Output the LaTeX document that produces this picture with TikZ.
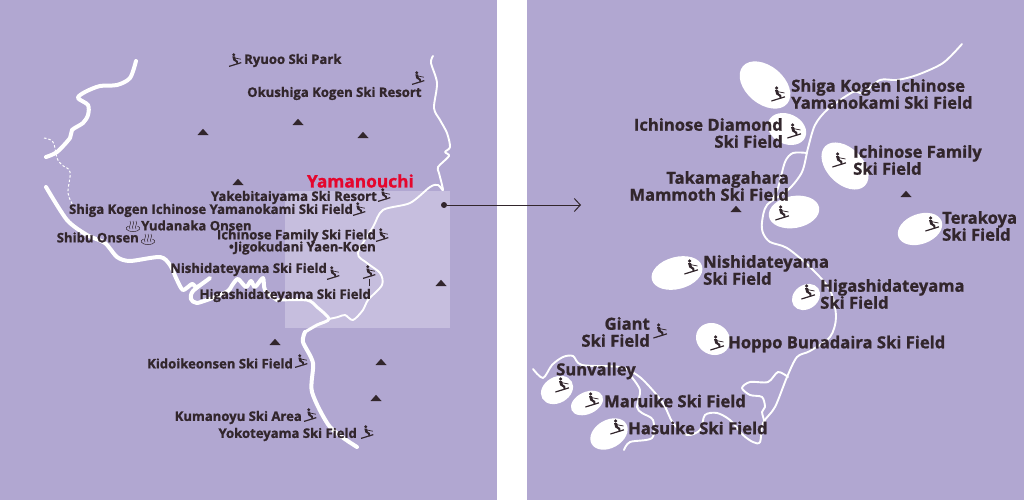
\documentclass[tikz,border=0pt]{standalone}
\usepackage{fontspec}
\setmainfont{Open Sans}[FakeBold=1.1]
\usetikzlibrary{shapes, arrows.meta, positioning}
\definecolor{panel}{HTML}{B1A7D1}
\definecolor{zone}{HTML}{C6BEDE}
\definecolor{ink}{HTML}{32262C}
\definecolor{townred}{HTML}{E5062D}

\begin{document}
\begin{tikzpicture}[
    x=1pt, y=-1pt,
    river/.style={draw=white, line width=4pt, line cap=round, line join=round},
    narrows/.style={draw=white, line width=3pt, line cap=round, line join=round},
    brook/.style={draw=white, line width=1.9pt, line cap=round, line join=round},
    trail/.style={draw=white, line width=1pt, dash pattern=on 2.5pt off 2pt},
    smallname/.style={inner sep=0pt, text=ink, font=\bfseries\fontsize{13.1}{14}\selectfont},
    bigname/.style={inner sep=0pt, text=ink, align=left, font=\bfseries\fontsize{16.6}{17}\selectfont},
    rightname/.style={bigname, align=right},
    field/.style={ellipse, fill=white, inner sep=0pt},
    marker/.style={circle, fill=ink, inner sep=0pt, minimum size=6pt},
    skier/.pic={
        \fill[ink] (-1.4,-7) circle (1.8);
        \fill[ink] (-3,-5) -- (0,-5) -- (0.9,-1.4) -- (3.2,0) -- (3.4,3.4) -- (1.8,3.6) -- (1.2,1.2) -- (-1.8,-0.6) -- cycle;
        \draw[ink, line width=0.7pt] (-0.5,-3.4) -- (6.5,-2);
        \draw[ink, line width=1.2pt] (-6.6,6) -- (7,1.8);
    },
    mountain/.pic={\fill[ink] (-5.5,3) -- (0,-3.2) -- (5.5,3) -- cycle;},
    spring/.pic={
        \draw[ink, line width=0.5pt] (-4.5,1.2) .. controls (-8.5,2) and (-7.5,6.5) .. (0,6.5) .. controls (7.5,6.5) and (8.5,2) .. (4.5,1.2);
        \foreach \sx in {-3,0,3}
            \draw[ink, line width=0.5pt] (\sx,4) .. controls (\sx-2,1.5) and (\sx+2,-1) .. (\sx,-4);
    }
]
    % Panels
    \fill[panel] (0,0) rectangle (497,500);
    \fill[panel] (527,0) rectangle (1024,500);
    \fill[zone] (285,191) rectangle (450,328);
    \useasboundingbox (0,0) rectangle (1024,500);

    % Rivers on the area map
    \draw[river] plot[smooth, tension=0.5] coordinates {(136,61) (130,78) (117,85) (100,86) (85,92) (78,98) (88,105) (88,115) (83,123) (72,130) (70,138) (57,152) (46,157)};
    \draw[trail] plot[smooth, tension=0.6] coordinates {(44,138) (53,142) (57,158) (62,165) (70,172) (68,193) (73,205)};
    \draw[river] plot[smooth, tension=0.45] coordinates {(46,187) (67,220) (87,235) (105,243) (117,257) (130,261) (160,257) (170,265) (177,280) (183,290) (192,284) (197,287) (210,278) (193,291) (191,299) (197,303) (215,297) (228,291) (233,284) (238,279) (246,287) (251,281) (255,287) (263,278) (265,290) (277,300)};
    \draw[narrows] plot[smooth, tension=0.45] coordinates {(277,300) (307,300) (317,307) (329,319) (317,325) (305,332)};
    \draw[river] plot[smooth, tension=0.45] coordinates {(305,332) (303,342) (313,363) (312,392) (330,427) (357,447)};
    \draw[brook] plot[smooth, tension=0.5] coordinates {(433,56) (431,63) (437,83) (434,108) (440,120) (447,133) (450,147) (445,152) (449,156) (438,167) (439,173) (443,190) (438,185) (430,187) (410,203) (383,210) (373,227) (358,253) (367,263) (380,273) (382,285) (368,300) (363,310) (353,320) (345,315) (338,317) (329,319)};

    % Rivers on the detail map
    \draw[brook] plot[smooth, tension=0.5] coordinates {(962,44) (943,63) (917,75) (897,80) (880,80) (863,93) (853,92) (828,109) (815,125) (808,148) (802,172) (788,190) (767,205) (762,222) (763,233) (770,242) (787,248) (810,267) (830,290) (836,317) (830,337) (810,351) (797,357) (787,377) (775,407) (763,423) (760,442) (753,442) (743,435) (730,420) (717,413) (705,415) (700,430) (687,435) (673,423) (663,403) (648,385) (637,375) (620,367) (582,365) (573,356) (563,357) (552,365) (543,378) (533,369)};
    \draw[brook] plot[smooth, tension=0.5] coordinates {(807,153) (793,153) (785,162) (778,188) (772,200)};
    \draw[brook] plot[smooth, tension=0.5] coordinates {(788,377) (778,372) (768,382) (750,382) (742,388) (750,395) (762,397) (765,407) (762,412) (765,423)};
    \draw[brook] plot[smooth, tension=0.5] coordinates {(630,375) (640,390) (637,407) (642,413) (653,420) (652,438) (630,442) (624,450)};

    % Ski fields
    \node[field, minimum width=58pt, minimum height=38pt, rotate=-40] (fieldshiga) at (765,85) {};
    \node[field, minimum width=40pt, minimum height=30pt, rotate=-25] (fielddiamond) at (787,129) {};
    \node[field, minimum width=56pt, minimum height=36pt, rotate=-45] (fieldfamily) at (845,166) {};
    \node[field, minimum width=51pt, minimum height=32pt, rotate=10] (fieldtaka) at (794,212) {};
    \node[field, minimum width=46pt, minimum height=30pt, rotate=20] (fieldtera) at (920,229) {};
    \node[field, minimum width=52pt, minimum height=32pt, rotate=15] (fieldnishi) at (677,273) {};
    \node[field, minimum width=30pt, minimum height=24pt, rotate=35] (fieldhigashi) at (806,297) {};
    \node[field, minimum width=35pt, minimum height=31pt, rotate=-30] (fieldhoppo) at (713,339) {};
    \node[field, minimum width=34pt, minimum height=26pt, rotate=30] (fieldsun) at (557,390) {};
    \node[field, minimum width=34pt, minimum height=22pt, rotate=25] (fieldmaru) at (587,403) {};
    \node[field, minimum width=40pt, minimum height=28pt, rotate=30] (fieldhasu) at (609,434) {};

    % Skiers and mountains
    \foreach \sx/\sy in {235/61, 418/79, 384/196, 359/210, 382/236, 333/274, 369/273, 301/362, 310/416, 367/433}
        \pic[scale=0.9] at (\sx,\sy) {skier};
    \foreach \sx/\sy in {778/95, 794/132, 839/161, 782/214, 932/225, 691/268, 808/293, 660/332, 717/344, 562/386, 592/401, 617/428}
        \pic at (\sx,\sy) {skier};
    \foreach \mx/\my in {203/132, 298/122, 363/135, 238/182, 441/283, 275/342, 381/362, 376/398, 736/209, 906/194}
        \pic at (\mx,\my) {mountain};
    \pic at (133,225) {spring};
    \pic at (148,238) {spring};
    \draw[ink, line width=0.5pt] (369,279) -- (369,286);

    % Names on the area map
    \node[smallname, anchor=west] (ryuoo) at (244,60.5) {Ryuoo Ski Park};
    \node[smallname, anchor=west] (okushiga) at (247,93.5) {Okushiga Kogen Ski Resort};
    \node[smallname, anchor=east, text=townred, font=\bfseries\fontsize{17.3}{19}\selectfont] (yamanouchi) at (414,181) {Yamanouchi};
    \node[smallname, anchor=east] (yakebitai) at (377,197.5) {Yakebitaiyama Ski Resort};
    \node[smallname, anchor=east] (shigaarea) at (353,210.5) {Shiga Kogen Ichinose Yamanokami Ski Field};
    \node[smallname, anchor=west] (yudanaka) at (141,225.5) {Yudanaka Onsen};
    \node[smallname, anchor=east] (shibu) at (139,237.5) {Shibu Onsen};
    \node[smallname, anchor=east] (familyarea) at (376,236) {Ichinose Family Ski Field};
    \node[smallname, anchor=east] (jigokudani) at (376,248) {\textbullet Jigokudani Yaen-Koen};
    \node[smallname, anchor=east] (nishiarea) at (327,269.5) {Nishidateyama Ski Field};
    \node[smallname, anchor=east] (higashiarea) at (371,295.5) {Higashidateyama Ski Field};
    \node[smallname, anchor=east] (kidoike) at (293,363.5) {Kidoikeonsen Ski Field};
    \node[smallname, anchor=east] (kumanoyu) at (302,417.5) {Kumanoyu Ski Area};
    \node[smallname, anchor=east] (yokoteyama) at (357,434.5) {Yokoteyama Ski Field};

    % Names on the detail map
    \node[bigname, anchor=west] (shiga) at (791,94) {Shiga Kogen Ichinose\\Yamanokami Ski Field};
    \node[rightname, anchor=east] (diamond) at (783,133) {Ichinose Diamond\\Ski Field};
    \node[bigname, anchor=west] (family) at (853,160) {Ichinose Family\\Ski Field};
    \node[rightname, anchor=east] (taka) at (789,186) {Takamagahara\\Mammoth Ski Field};
    \node[bigname, anchor=west] (tera) at (942,226) {Terakoya\\Ski Field};
    \node[bigname, anchor=west] (nishi) at (703,270) {Nishidateyama\\Ski Field};
    \node[bigname, anchor=west] (higashi) at (820,294) {Higashidateyama\\Ski Field};
    \node[rightname, anchor=east] (giant) at (650,332) {Giant\\Ski Field};
    \node[bigname, anchor=west] (hoppo) at (728,344) {Hoppo Bunadaira Ski Field};
    \node[bigname, anchor=west] (sunvalley) at (556,371) {Sunvalley};
    \node[bigname, anchor=west] (maruike) at (604,401) {Maruike Ski Field};
    \node[bigname, anchor=west] (hasuike) at (628,428) {Hasuike Ski Field};

    % Pointer to the detail map
    \node[marker] (zonedot) at (444,205) {};
    \coordinate (detailend) at (581,205);
    \draw[ink, line width=1pt, -{Straight Barb[length=6pt, width=13pt]}] (zonedot) -- (detailend);
\end{tikzpicture}
\end{document}
